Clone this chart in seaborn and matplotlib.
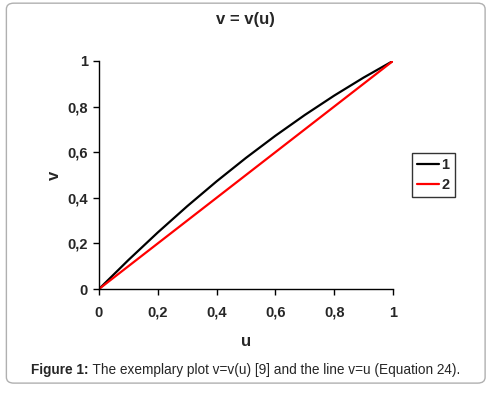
import matplotlib
matplotlib.use("Agg")
import matplotlib.pyplot as plt
import seaborn as sns
import pandas as pd
from matplotlib.patches import FancyBboxPatch
from matplotlib.ticker import FuncFormatter

u_vals = [0.0, 0.1, 0.2, 0.3, 0.4, 0.5, 0.6, 0.7, 0.8, 0.9, 1.0]
v_curve = [0.0, 0.127, 0.248, 0.363, 0.472, 0.575, 0.672, 0.763, 0.848, 0.927, 1.0]
v_line = [0.0, 0.1, 0.2, 0.3, 0.4, 0.5, 0.6, 0.7, 0.8, 0.9, 1.0]
series_names = ["1", "2"]
series_colors = ["#000000", "#ff0000"]
ticks = [0, 0.2, 0.4, 0.6, 0.8, 1.0]

sns.set_style("white")
plt.rcParams['font.family'] = ['Liberation Sans', 'DejaVu Sans']

df = pd.DataFrame({
    "u": u_vals + u_vals,
    "v": v_curve + v_line,
    "series": [series_names[0]] * len(u_vals) + [series_names[1]] * len(u_vals),
})

fig = plt.figure(figsize=(4.91, 3.97), dpi=100)
ax = fig.add_axes([0.2016, 0.272, 0.5988, 0.5745])

sns.lineplot(data=df, x="u", y="v", hue="series", palette=series_colors,
             linewidth=1.6, ax=ax, legend=True)

ax.set_xlim(0, 1)
ax.set_ylim(0, 1)
ax.set_xticks(ticks)
ax.set_yticks(ticks)
fmt = FuncFormatter(lambda x, p: ("%g" % round(x, 1)).replace(".", ","))
ax.xaxis.set_major_formatter(fmt)
ax.yaxis.set_major_formatter(fmt)
ax.tick_params(axis="both", which="major", direction="out", length=4, width=1,
               color="black", bottom=True, left=True)
ax.tick_params(axis="x", pad=16)
ax.tick_params(axis="y", pad=4)
for lab in ax.get_xticklabels() + ax.get_yticklabels():
    lab.set_fontweight("bold")
    lab.set_fontsize(10.5)
for lab in ax.get_xticklabels():
    lab.set_verticalalignment("baseline")
for s in ["top", "right"]:
    ax.spines[s].set_visible(False)
for s in ["left", "bottom"]:
    ax.spines[s].set_color("black")
    ax.spines[s].set_linewidth(1)

ax.set_xlabel("u", fontsize=12, fontweight="bold", labelpad=10)
ax.set_ylabel("v", fontsize=12, fontweight="bold", labelpad=3.5)

leg = ax.legend(loc="center left", bbox_to_anchor=(1.065, 0.5), frameon=True,
                fancybox=False, edgecolor="black", fontsize=10.5, handlelength=1.5,
                handletextpad=0.15, borderpad=0.35, labelspacing=0.45,
                borderaxespad=0)
leg.set_title(None)
for t in leg.get_texts():
    t.set_fontweight("bold")
leg.get_frame().set_linewidth(1)

fig.text(0.499, 0.95, "v = v(u)", ha="center", va="center", fontsize=12, fontweight="bold")

border = FancyBboxPatch((0.013, 0.035), 0.975, 0.957, boxstyle="round,pad=0,rounding_size=0.015",
                        transform=fig.transFigure, facecolor="none", edgecolor="#b0b0b0",
                        linewidth=1.0)
fig.patches.append(border)

# caption: bold prefix + normal text, centred together
cap_y = 0.068
prefix = "Figure 1:"
rest = " The exemplary plot v=v(u) [9] and the line v=u (Equation 24)."
t_bold = fig.text(0, cap_y, prefix, ha="left", va="center", fontsize=9.8, fontweight="bold")
t_rest = fig.text(0, cap_y, rest, ha="left", va="center", fontsize=9.8)
fig.canvas.draw()
r = fig.canvas.get_renderer()
w_b = t_bold.get_window_extent(r).width
w_r = t_rest.get_window_extent(r).width
W = fig.get_figwidth() * fig.dpi
x0 = (W - (w_b + w_r)) / 2 / W
t_bold.set_x(x0)
t_rest.set_x(x0 + w_b / W)

fig.savefig("out.png", dpi=100)
